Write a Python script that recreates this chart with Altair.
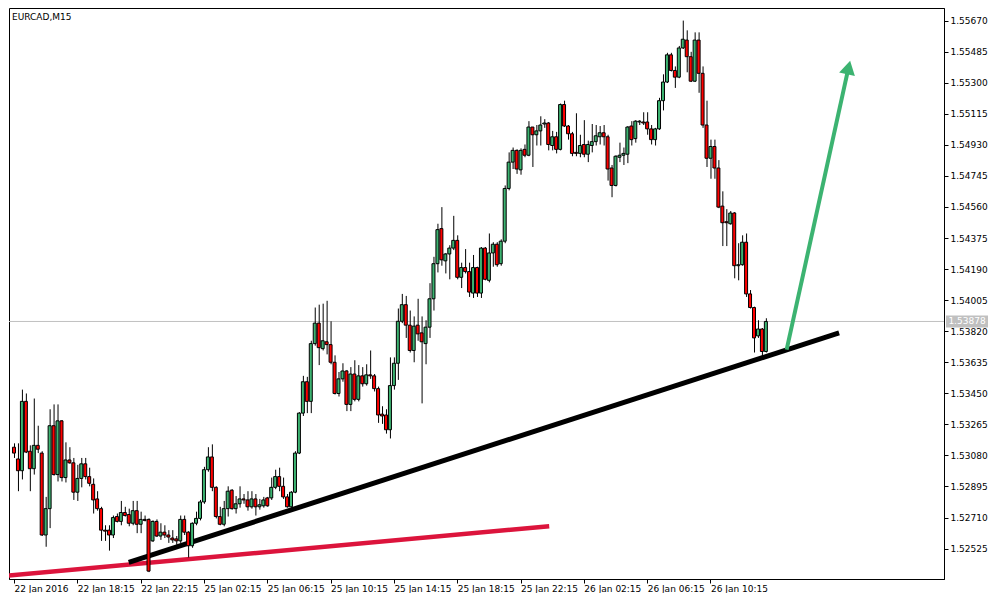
import altair as alt
import pandas as pd

# ---------------- data ----------------
symbol_title = "EURCAD,M15"
last_price = 1.53878

opens = [1.53129, 1.53059, 1.52989, 1.53402, 1.53105, 1.53001, 1.53140, 1.53094, 1.52606, 1.52763,
         1.53257, 1.52966, 1.53286, 1.52948, 1.53053, 1.53036, 1.52861, 1.52943, 1.53030, 1.52954,
         1.52908, 1.52821, 1.52763, 1.52635, 1.52635, 1.52606, 1.52716, 1.52687, 1.52740, 1.52728,
         1.52676, 1.52751, 1.52670, 1.52699, 1.52699, 1.52571, 1.52687, 1.52600, 1.52623, 1.52606,
         1.52588, 1.52583, 1.52571, 1.52699, 1.52623, 1.52542, 1.52676, 1.52705, 1.52803, 1.52995,
         1.53071, 1.52890, 1.52716, 1.52670, 1.52763, 1.52873, 1.52763, 1.52792, 1.52821, 1.52815,
         1.52774, 1.52821, 1.52774, 1.52780, 1.52827, 1.52827, 1.52890, 1.52954, 1.52896, 1.52833,
         1.52774, 1.52861, 1.53094, 1.53332, 1.53519, 1.53402, 1.53746, 1.53868, 1.53716, 1.53757,
         1.53740, 1.53635, 1.53449, 1.53536, 1.53583, 1.53384, 1.53565, 1.53414, 1.53554, 1.53507,
         1.53560, 1.53554, 1.53478, 1.53326, 1.53321, 1.53233, 1.53496, 1.53629, 1.53879, 1.53978,
         1.53856, 1.53705, 1.53856, 1.53810, 1.53746, 1.53844, 1.54013, 1.54222, 1.54431, 1.54239,
         1.54280, 1.54315, 1.54361, 1.54141, 1.54199, 1.54175, 1.54047, 1.54199, 1.54047, 1.54315,
         1.54123, 1.54286, 1.54338, 1.54222, 1.54356, 1.54670, 1.54827, 1.54897, 1.54781, 1.54903,
         1.54868, 1.55036, 1.54990, 1.55013, 1.55054, 1.55060, 1.54926, 1.54978, 1.54903, 1.55170,
         1.55042, 1.54996, 1.54885, 1.54879, 1.54932, 1.54874, 1.54926, 1.54949, 1.54978, 1.55002,
         1.54978, 1.54792, 1.54688, 1.54856, 1.54868, 1.54874, 1.55042, 1.54967, 1.55066, 1.55066,
         1.55066, 1.55025, 1.54961, 1.55025, 1.55193, 1.55304, 1.55466, 1.55373, 1.55333, 1.55507,
         1.55554, 1.55455, 1.55309, 1.55554, 1.55356, 1.55048, 1.54850, 1.54920, 1.54792, 1.54565,
         1.54472, 1.54460, 1.54524, 1.54210, 1.54216, 1.54350, 1.54042, 1.53961, 1.53792, 1.53833,
         1.53699]

highs = [1.53152, 1.53152, 1.53472, 1.53449, 1.53140, 1.53419, 1.53257, 1.53105, 1.52833, 1.53355,
         1.53384, 1.53384, 1.53291, 1.53158, 1.53129, 1.53065, 1.53024, 1.53065, 1.53065, 1.53007,
         1.52943, 1.52867, 1.52774, 1.52664, 1.52664, 1.52722, 1.52734, 1.52809, 1.52774, 1.52763,
         1.52809, 1.52809, 1.52745, 1.52722, 1.52705, 1.52693, 1.52699, 1.52676, 1.52664, 1.52635,
         1.52635, 1.52600, 1.52722, 1.52722, 1.52629, 1.52681, 1.52745, 1.52815, 1.53012, 1.53129,
         1.53146, 1.52896, 1.52774, 1.52809, 1.52896, 1.52879, 1.52838, 1.52896, 1.52850, 1.52867,
         1.52867, 1.52850, 1.52821, 1.52833, 1.52833, 1.52948, 1.52995, 1.53007, 1.52948, 1.52850,
         1.52867, 1.53105, 1.53338, 1.53554, 1.53548, 1.53763, 1.53961, 1.53978, 1.53984, 1.54001,
         1.53879, 1.53676, 1.53577, 1.53629, 1.53589, 1.53606, 1.53647, 1.53618, 1.53606, 1.53623,
         1.53705, 1.53565, 1.53490, 1.53373, 1.53355, 1.53664, 1.53664, 1.53955, 1.54042, 1.54030,
         1.53943, 1.53908, 1.54013, 1.53908, 1.53885, 1.54106, 1.54263, 1.54460, 1.54559, 1.54286,
         1.54332, 1.54507, 1.54391, 1.54228, 1.54309, 1.54228, 1.54274, 1.54204, 1.54321, 1.54321,
         1.54402, 1.54350, 1.54350, 1.54367, 1.54688, 1.54885, 1.54914, 1.54903, 1.54909, 1.54932,
         1.55071, 1.55036, 1.55048, 1.55100, 1.55083, 1.55066, 1.55013, 1.55007, 1.55176, 1.55193,
         1.55048, 1.55007, 1.55118, 1.54990, 1.55077, 1.54955, 1.55054, 1.55048, 1.55042, 1.55048,
         1.54990, 1.54810, 1.54868, 1.54943, 1.54914, 1.55042, 1.55071, 1.55077, 1.55077, 1.55124,
         1.55124, 1.55048, 1.55031, 1.55210, 1.55350, 1.55478, 1.55478, 1.55397, 1.55519, 1.55670,
         1.55612, 1.55484, 1.55600, 1.55600, 1.55397, 1.55193, 1.54961, 1.54961, 1.54839, 1.54653,
         1.54547, 1.54536, 1.54530, 1.54344, 1.54391, 1.54402, 1.54065, 1.53966, 1.53885, 1.53839,
         1.53897]

lows = [1.53065, 1.52867, 1.52937, 1.53094, 1.52867, 1.52966, 1.53094, 1.52600, 1.52536, 1.52647,
        1.52960, 1.52925, 1.52925, 1.52919, 1.53030, 1.52815, 1.52809, 1.52890, 1.52937, 1.52896,
        1.52734, 1.52751, 1.52571, 1.52571, 1.52513, 1.52588, 1.52681, 1.52664, 1.52716, 1.52658,
        1.52664, 1.52617, 1.52617, 1.52687, 1.52385, 1.52565, 1.52594, 1.52577, 1.52588, 1.52559,
        1.52559, 1.52548, 1.52559, 1.52606, 1.52472, 1.52530, 1.52664, 1.52693, 1.52792, 1.52983,
        1.52867, 1.52705, 1.52664, 1.52658, 1.52716, 1.52757, 1.52734, 1.52769, 1.52792, 1.52751,
        1.52763, 1.52722, 1.52757, 1.52769, 1.52774, 1.52815, 1.52879, 1.52867, 1.52821, 1.52769,
        1.52769, 1.52855, 1.53088, 1.53315, 1.53332, 1.53332, 1.53734, 1.53618, 1.53705, 1.53682,
        1.53623, 1.53443, 1.53431, 1.53519, 1.53344, 1.53344, 1.53402, 1.53402, 1.53490, 1.53496,
        1.53536, 1.53461, 1.53274, 1.53268, 1.53210, 1.53181, 1.53472, 1.53530, 1.53868, 1.53780,
        1.53693, 1.53635, 1.53763, 1.53390, 1.53623, 1.53780, 1.53943, 1.54170, 1.54210, 1.54164,
        1.54129, 1.54303, 1.54129, 1.54077, 1.54164, 1.54024, 1.54018, 1.54024, 1.54018, 1.54123,
        1.54111, 1.54204, 1.54204, 1.54210, 1.54344, 1.54659, 1.54786, 1.54757, 1.54752, 1.54856,
        1.54862, 1.54798, 1.54926, 1.54926, 1.55031, 1.54897, 1.54897, 1.54879, 1.54897, 1.55036,
        1.54961, 1.54862, 1.54862, 1.54856, 1.54856, 1.54827, 1.54885, 1.54926, 1.54932, 1.54926,
        1.54717, 1.54618, 1.54682, 1.54827, 1.54810, 1.54821, 1.54926, 1.54943, 1.55048, 1.55048,
        1.54990, 1.54932, 1.54926, 1.55019, 1.55135, 1.55298, 1.55367, 1.55269, 1.55327, 1.55501,
        1.55362, 1.55304, 1.55304, 1.55240, 1.55031, 1.54798, 1.54728, 1.54728, 1.54553, 1.54327,
        1.54327, 1.54454, 1.54135, 1.54123, 1.54210, 1.54024, 1.53955, 1.53693, 1.53780, 1.53670,
        1.53693]

closes = [1.53094, 1.52989, 1.53402, 1.53100, 1.53001, 1.53140, 1.53117, 1.52606, 1.52763, 1.53257,
          1.52966, 1.53286, 1.52948, 1.53053, 1.53036, 1.52861, 1.52943, 1.53030, 1.52954, 1.52914,
          1.52815, 1.52763, 1.52635, 1.52629, 1.52606, 1.52710, 1.52687, 1.52740, 1.52722, 1.52676,
          1.52751, 1.52670, 1.52699, 1.52693, 1.52391, 1.52687, 1.52600, 1.52623, 1.52606, 1.52594,
          1.52577, 1.52571, 1.52699, 1.52623, 1.52542, 1.52676, 1.52705, 1.52803, 1.52995, 1.53071,
          1.52890, 1.52716, 1.52670, 1.52763, 1.52867, 1.52763, 1.52792, 1.52821, 1.52815, 1.52774,
          1.52821, 1.52774, 1.52786, 1.52815, 1.52780, 1.52890, 1.52954, 1.52896, 1.52833, 1.52774,
          1.52861, 1.53094, 1.53332, 1.53519, 1.53402, 1.53746, 1.53868, 1.53722, 1.53763, 1.53740,
          1.53635, 1.53449, 1.53536, 1.53583, 1.53384, 1.53565, 1.53414, 1.53554, 1.53507, 1.53560,
          1.53554, 1.53478, 1.53321, 1.53315, 1.53233, 1.53496, 1.53629, 1.53879, 1.53978, 1.53856,
          1.53705, 1.53850, 1.53804, 1.53757, 1.53844, 1.54013, 1.54222, 1.54425, 1.54245, 1.54280,
          1.54315, 1.54361, 1.54141, 1.54199, 1.54175, 1.54053, 1.54199, 1.54047, 1.54315, 1.54129,
          1.54286, 1.54338, 1.54216, 1.54356, 1.54670, 1.54827, 1.54897, 1.54786, 1.54897, 1.54868,
          1.55036, 1.54990, 1.55013, 1.55048, 1.55060, 1.54932, 1.54978, 1.54903, 1.55170, 1.55042,
          1.54996, 1.54879, 1.54879, 1.54926, 1.54874, 1.54932, 1.54949, 1.54984, 1.55002, 1.54978,
          1.54786, 1.54688, 1.54862, 1.54868, 1.54879, 1.55036, 1.54961, 1.55071, 1.55071, 1.55060,
          1.55025, 1.54961, 1.55025, 1.55193, 1.55304, 1.55466, 1.55373, 1.55333, 1.55507, 1.55559,
          1.55455, 1.55309, 1.55554, 1.55356, 1.55048, 1.54850, 1.54920, 1.54792, 1.54559, 1.54466,
          1.54466, 1.54524, 1.54210, 1.54216, 1.54350, 1.54042, 1.53961, 1.53780, 1.53833, 1.53699,
          1.53878]

x_tick_bars = [0, 16, 32, 48, 64, 80, 96, 112, 128, 144, 160, 176]
x_tick_labels = ["22 Jan 2016", "22 Jan 18:15", "22 Jan 22:15", "25 Jan 02:15",
                 "25 Jan 06:15", "25 Jan 10:15", "25 Jan 14:15", "25 Jan 18:15",
                 "25 Jan 22:15", "26 Jan 02:15", "26 Jan 06:15", "26 Jan 10:15"]
y_tick_values = [1.52525, 1.52710, 1.52895, 1.53080, 1.53265, 1.53450, 1.53635, 1.53820,
                 1.54005, 1.54190, 1.54375, 1.54560, 1.54745, 1.54930, 1.55115, 1.55300,
                 1.55485, 1.55670]

# hand-drawn objects (bar index, price)
red_line_bars = [-2, 135.25]
red_line_prices = [1.52363, 1.52658]
black_line_bars = [29, 208.5]
black_line_prices = [1.52443, 1.53810]
arrow_bars = [195.25, 210.9]
arrow_prices = [1.53710, 1.55391]

# ---------------- chart ----------------
W, H = 935, 571
FONT = "DejaVu Sans"
GREEN = "#3cb371"
RED = "#ff0000"

n = len(opens)
candles = pd.DataFrame({
    "i": list(range(n)),
    "o": opens, "h": highs, "l": lows, "c": closes,
})
candles["dir"] = ["up" if c >= o else "down" for o, c in zip(opens, closes)]

xscale = alt.Scale(domain=[0, 233.75], zero=False, nice=False)
yscale = alt.Scale(domain=[1.52344, 1.55745], zero=False, nice=False)

label_list = "[" + ",".join("'" + s + "'" for s in x_tick_labels) + "]"
xaxis = alt.Axis(values=x_tick_bars, labelExpr=label_list + "[round(datum.value / 16)]",
                 title=None, grid=False, orient="bottom", tickSize=4, labelAlign="left",
                 labelPadding=1, labelFont=FONT, labelFontSize=9, labelColor="black",
                 labelOverlap=False, labelFlush=False, labelBound=False,
                 domainColor="black", tickColor="black")
yaxis = alt.Axis(values=y_tick_values, format=".5f", title=None, grid=False, orient="right",
                 tickSize=4, labelPadding=2, labelFont=FONT, labelFontSize=9, labelColor="black",
                 labelOverlap=False, labelFlush=False, labelBound=False,
                 domainColor="black", tickColor="black")


def X(field):
    return alt.X(field, type="quantitative", scale=xscale, axis=xaxis)


def Y(field):
    return alt.Y(field, type="quantitative", scale=yscale, axis=yaxis)


one = pd.DataFrame({"k": [0]})

price_line = alt.Chart(one).mark_rule(color="#c0c0c0", strokeWidth=1).encode(
    y=alt.Y(datum=last_price, type="quantitative", scale=yscale, axis=yaxis)
)

red_df = pd.DataFrame({"i": red_line_bars, "p": red_line_prices})
black_df = pd.DataFrame({"i": black_line_bars, "p": black_line_prices})
arrow_df = pd.DataFrame({"i": arrow_bars, "p": arrow_prices})

red_line = alt.Chart(red_df).mark_line(color="#dc143c", strokeWidth=4.5, clip=True).encode(
    x=X("i"), y=Y("p"))
black_line = alt.Chart(black_df).mark_line(color="black", strokeWidth=5, clip=True).encode(
    x=X("i"), y=Y("p"))

wicks = alt.Chart(candles).mark_rule(color="black", strokeWidth=1, clip=True, xOffset=0.5).encode(
    x=X("i"), y=Y("l"), y2="h")
bodies = alt.Chart(candles).mark_bar(size=3, stroke="black", strokeWidth=1, clip=True).encode(
    x=X("i"), y=Y("o"), y2="c",
    color=alt.Color("dir:N", scale=alt.Scale(domain=["up", "down"], range=[GREEN, RED]), legend=None))

arrow_shaft = alt.Chart(arrow_df).mark_line(color=GREEN, strokeWidth=4, clip=True).encode(
    x=X("i"), y=Y("p"))
arrow_head = alt.Chart(arrow_df.tail(1)).mark_point(
    shape="triangle-up", filled=True, color=GREEN, size=260, angle=13, opacity=1
).encode(x=X("i"), y=Y("p"))

title_txt = alt.Chart(one).mark_text(
    text=symbol_title, align="left", baseline="middle", font=FONT, fontSize=9, color="black"
).encode(x=alt.value(3), y=alt.value(9))

price_box = alt.Chart(one).mark_rect(color="#c0c0c0", yOffset=-6, y2Offset=6).encode(
    x=alt.value(W + 2), x2=alt.value(W + 44),
    y=alt.Y(datum=last_price, type="quantitative", scale=yscale, axis=yaxis),
    y2=alt.Y2(datum=last_price))
price_txt = alt.Chart(one).mark_text(
    text=f"{last_price:.5f}", align="center", baseline="middle", font=FONT, fontSize=9, color="white"
).encode(x=alt.value(W + 23),
         y=alt.Y(datum=last_price, type="quantitative", scale=yscale, axis=yaxis))

chart = alt.layer(
    price_line, red_line, black_line, wicks, bodies, arrow_shaft, arrow_head,
    title_txt, price_box, price_txt
).properties(
    width=W, height=H, padding=0, background="white"
).configure_view(
    stroke="black", strokeWidth=1
)

chart.save("out.html", embed_options={"renderer": "svg", "actions": False})
